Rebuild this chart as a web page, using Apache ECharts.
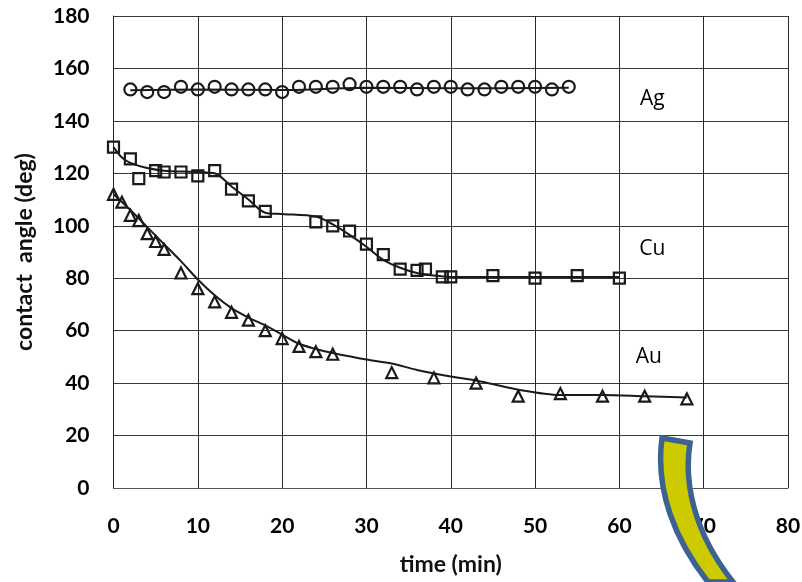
<!DOCTYPE html>
<html><head><meta charset="utf-8">
<style>html,body{margin:0;padding:0;background:#fff}#c{width:802px;height:582px}</style>
<script src="https://cdn.jsdelivr.net/npm/echarts@6/dist/echarts.min.js"></script></head>
<body><div id="c"></div>
<script>
const agX=[2,4,6,8,10,12,14,16,18,20,22,24,26,28,30,32,34,36,38,40,42,44,46,48,50,52,54];
const agY=[152,151,151,153,152,153,152,152,152,151,153,153,153,154,153,153,153,152,153,153,152,152,153,153,153,152,153];
const cuX=[0,2,3,5,6,8,10,12,14,16,18,24,26,28,30,32,34,36,37,39,40,45,50,55,60];
const cuY=[130,125.5,118,121,120.5,120.5,119,121,114,109.5,105.5,101.5,100,98,93,89,83.5,83,83.5,80.5,80.5,81,80,81,80];
const auX=[0,1,2,3,4,5,6,8,10,12,14,16,18,20,22,24,26,33,38,43,48,53,58,63,68];
const auY=[112,109,104,102,97,94,91,82,76,71,67,64,60,57,54,52,51,44,42,40,35,36,35,35,34];
const agTrendX=[2,10,20,30,40,54];
const agTrendY=[151.7,152,151.8,152.6,152.4,152.6];
const cuTrendX=[0,1,2,4,6,10,12,14,16,18,20,24,26,28,30,32,34,36,38,40,60];
const cuTrendY=[130,126,124,122,121,120.5,120,115,110,105,104.5,103.5,100.5,96.5,92,87,84,82,81,80.5,80.5];
const auTrendX=[0,2,4,6,8,10,12,14,16,18,20,22,24,26,30,33,36,40,43,48,53,58,63,68];
const auTrendY=[112,106,99.5,93,86.5,79.5,73.5,68.6,65,62,58.5,55,53,51.5,49,47.5,45,42.5,41,37.5,35.5,35.5,35,34.5];
const labels=["Ag","Cu","Au"];
const labelX=[63.9,63.9,63.5];
const labelY=[148.5,91,50];
const xTicks={min:0,max:80,step:10};
const yTicks={min:0,max:180,step:20};
const zip=(a,b)=>a.map((v,i)=>[v,b[i]]);
const ink='#1a1a1a';
const font='Lato';
const trend=(n,x,y)=>({name:n,type:'line',smooth:0.3,symbol:'none',z:3,silent:true,data:zip(x,y),lineStyle:{color:ink,width:2}});
const pts=(n,x,y,sym,size)=>({name:n,type:'scatter',symbol:sym,symbolSize:size,z:4,data:zip(x,y),
  itemStyle:{color:'rgba(255,255,255,0)',borderColor:ink,borderWidth:2.2,opacity:1}});
const chart=echarts.init(document.getElementById('c'),null,{renderer:'canvas'});
chart.setOption({
  animation:false,backgroundColor:'#fff',
  grid:{left:113.5,right:14,top:16,bottom:94,outerBoundsMode:'none'},
  xAxis:{type:'value',min:xTicks.min,max:xTicks.max,interval:xTicks.step,
    name:'time (min)',nameLocation:'middle',nameGap:65,
    nameTextStyle:{fontFamily:font,fontWeight:'bold',fontSize:23,color:'#111'},
    axisLine:{show:true,lineStyle:{color:'#555',width:1}},axisTick:{show:false},
    axisLabel:{margin:28,fontFamily:font,fontWeight:'bold',fontSize:21,color:'#000'},
    splitLine:{show:true,lineStyle:{color:'#2a2a2a',width:1}}},
  yAxis:{type:'value',min:yTicks.min,max:yTicks.max,interval:yTicks.step,
    name:'contact  angle (deg)',nameLocation:'middle',nameGap:67,
    nameTextStyle:{fontFamily:font,fontWeight:'bold',fontSize:23,color:'#111',padding:[0,0,10,0]},
    axisLine:{show:true,lineStyle:{color:'#222',width:1}},axisTick:{show:false},
    axisLabel:{margin:24,fontFamily:font,fontWeight:'bold',fontSize:21,color:'#000'},
    splitLine:{show:true,lineStyle:{color:'#3a3a3a',width:1}}},
  series:[
    trend('Ag trend',agTrendX,agTrendY),trend('Cu trend',cuTrendX,cuTrendY),trend('Au trend',auTrendX,auTrendY),
    pts('Ag',agX,agY,'circle',12),pts('Cu',cuX,cuY,'rect',11),pts('Au',auX,auY,'triangle',11),
    {type:'scatter',symbol:'circle',symbolSize:1,silent:true,z:5,
      itemStyle:{color:'#fff',opacity:1},
      data:labels.map((t,i)=>({value:[labelX[i],labelY[i]],name:t})),
      label:{show:true,position:'inside',formatter:'{b}',fontFamily:'Open Sans',fontSize:21,color:'#000',opacity:1}},
    {type:'custom',silent:true,z:100,clip:false,data:[[0,0]],
      renderItem:()=>({type:'path',
        shape:{pathData:'M662 438 L690 443 C684 480 692 530 733 582 L708 582 C675 540 655 490 662 438 Z'},
        style:{fill:'#cdcb00',stroke:'#3b6291',lineWidth:5.5}})}
  ]
});
</script></body></html>
